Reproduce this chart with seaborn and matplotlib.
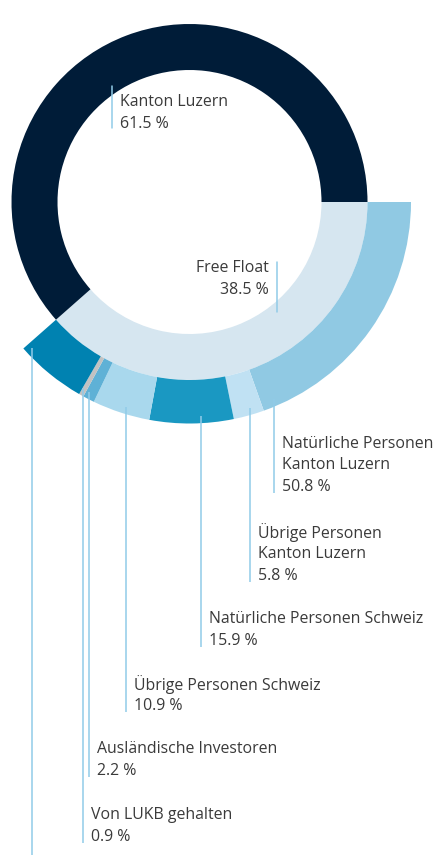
import numpy as np
import matplotlib
matplotlib.use("Agg")
import matplotlib.pyplot as plt
import seaborn as sns

# shareholder structure
main_labels = ["Free Float", "Kanton Luzern"]
main_values = [38.5, 61.5]

# breakdown of the free float (share of free float, in %)
float_labels = ["Natürliche Personen\nKanton Luzern", "Übrige Personen\nKanton Luzern",
                "Natürliche Personen Schweiz", "Übrige Personen Schweiz",
                "Ausländische Investoren", "Von LUKB gehalten", ""]
float_values = [50.8, 5.8, 15.9, 10.9, 2.2, 0.9, 13.5]

main_colors = ["#d6e6f0", "#001c38"]
float_colors = ["#90c9e3", "#c0e1f3", "#1a98c2", "#a9d8ed", "#5fb1d6", "#c2c2c2", "#0082b1"]
line_color = "#91cbe8"
text_color = "#3a3a3a"

sns.set_theme(style="white")
plt.rcParams['font.family'] = ['Open Sans', 'DejaVu Sans']

W, H = 437, 855
fig = plt.figure(figsize=(W / 100, H / 100), dpi=100)
ax = fig.add_axes([0, 0, 1, 1])

cx, cy = 189.5, 202.0
r_main, w_main = 178.0, 46.0
r_float, w_float = 221.5, 43.5

# inner ring (y axis is flipped below, so counterclock draws clockwise on screen)
ax.pie(main_values, colors=main_colors, startangle=0, counterclock=True,
       radius=r_main, center=(cx, cy), wedgeprops=dict(width=w_main, linewidth=0))

# outer ring: free float parts scaled to the free float slice
ff = main_values[0]
outer_vals = [v * ff / 100 for v in float_values] + [main_values[1]]
ax.pie(outer_vals, colors=float_colors + ["none"], startangle=0, counterclock=True,
       radius=r_float, center=(cx, cy), wedgeprops=dict(width=w_float, linewidth=0))

ax.set_xlim(0, W)
ax.set_ylim(H, 0)
ax.set_aspect("equal")
ax.axis("off")

fs = 11.4
step = 21.6

def text_block(x, bottom, lines, ha="left"):
    for j, s in enumerate(reversed(lines)):
        ax.text(x, bottom - 6 - j * step, s, ha=ha, va="center", fontsize=fs, color=text_color)

# leader lines for the free float parts
anchor_frac = [0.95, 0.4, 0.39, 0.44, 0.75, 0.9, 0.92]
label_bottom = [493, 582, 647, 712, 777, 843, H + 40]
cum = 0.0
for lab, v, frac, bot in zip(float_labels, float_values, anchor_frac, label_bottom):
    start = 360 * cum * ff / 10000
    span = 360 * v * ff / 10000
    theta = np.deg2rad(start + frac * span)
    r = r_float - 7
    x = cx + r * np.cos(theta)
    y = cy + r * np.sin(theta)
    ax.plot([x, x], [y, bot], color=line_color, lw=1.1, solid_capstyle="butt")
    if lab:
        text_block(x + 8, bot, lab.split("\n") + [f"{v:.1f} %"])
    cum += v

# labels of the inner ring
ax.plot([111.7, 111.7], [86, 128], color=line_color, lw=1.1)
text_block(120, 129.5, [main_labels[1], f"{main_values[1]:.1f} %"])
ax.plot([276.7, 276.7], [262, 312], color=line_color, lw=1.1)
text_block(268.5, 295.5, [main_labels[0], f"{main_values[0]:.1f} %"], ha="right")

fig.savefig("out.png", dpi=100)
